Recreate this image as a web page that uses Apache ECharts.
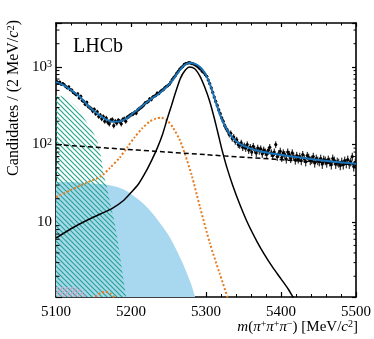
<!DOCTYPE html>
<html>
<head>
<meta charset="utf-8">
<script src="https://cdn.jsdelivr.net/npm/echarts@6/dist/echarts.min.js"></script>
<style>
html, body { margin: 0; padding: 0; background: #fff; }
#container { width: 374px; height: 339px; }
</style>
</head>
<body>
<div id="container"></div>
<script>
// 2 MeV bins from 5100 to 5500
var binLow = 5100;
var binWidth = 2;
var counts = [
  650, 620, 640, 600, 610,  590, 560, 540, 555, 510,
  505, 470, 455, 440, 450,  400, 420, 370, 360, 330,
  350, 310, 300, 290, 270,  285, 250, 265, 230, 240,
  215, 230, 200, 220, 195,  185, 205, 210, 175, 200,
  190, 205, 200, 185, 210,  215, 200, 225, 230, 240,
  245, 250, 260, 255, 280,  290, 300, 310, 325, 345,
  350, 360, 390, 380, 410,  420, 430, 460, 455, 480,
  500, 510, 540, 560, 575,  600, 640, 690, 730, 770,
  830, 880, 940, 980, 1020, 1080, 1110, 1120, 1140, 1130,
  1110, 1100, 1070, 1050, 1010, 970, 940, 880, 850, 800,
  760, 680, 610, 540, 470,  410, 360, 320, 280, 250,
  220, 200, 175, 160, 150,  135, 140, 120, 125, 110,
  115, 100, 98, 105, 92,    96, 90, 100, 85, 92,
  80, 95, 86, 78, 90,       83, 88, 76, 85, 80,
  75, 84, 92, 78, 72,       80, 100, 70, 76, 82,
  68, 78, 74, 65, 80,       74, 66, 78, 70, 63,
  72, 65, 70, 62, 74,       66, 60, 72, 68, 62,
  64, 70, 58, 66, 62,       60, 66, 56, 64, 62,
  58, 64, 60, 55, 66,       62, 56, 60, 58, 54,
  60, 55, 62, 57, 64,       56, 60, 70, 52, 58
];

// fit components, [mass, candidates]
var fitTotal = [[5100,640],[5110,585],[5120,505],[5130,425],[5136,375],[5145,300],[5155,252],[5165,215],[5176,197],[5185,199],[5195,220],[5203,255],[5215,315],[5225,375],[5238,460],[5248,560],[5256,690],[5263,860],[5270,1030],[5278,1125],[5286,1090],[5292,1000],[5298,850],[5304,650],[5309,470],[5314,330],[5320,225],[5328,155],[5336,120],[5345,102],[5358,90],[5372,82],[5390,76],[5410,71],[5440,65],[5470,60],[5500,56.5]];
var signal = [[5100,6.2],[5120,8.2],[5140,10.4],[5160,12.8],[5175,15],[5190,19],[5200,24],[5210,31],[5220,45],[5228,64],[5235,90],[5242,135],[5248,210],[5254,320],[5260,490],[5266,720],[5272,900],[5278,1000],[5285,950],[5292,760],[5298,560],[5305,360],[5311,220],[5316,140],[5321,88],[5328,50],[5336,29],[5345,17],[5356,9.5],[5368,5.6],[5378,3.8],[5389,2.6],[5400,1.85],[5410,1.35],[5418,1.0],[5425,0.8]];
var peakingBkg = [[5100,21],[5120,26],[5140,32],[5160,39],[5172,50],[5185,68],[5195,92],[5205,125],[5215,162],[5225,198],[5233,216],[5240,222],[5248,205],[5256,165],[5265,115],[5272,75],[5281,40],[5292,15.6],[5305,5.4],[5318,2.2],[5329,1.05],[5335,0.7]];
var smallPeak = [[5146,0.9],[5152,1.08],[5160,1.22],[5166,1.26],[5172,1.2],[5178,1.06],[5183,0.9]];
var combinatorial = [[5100,100],[5300,74],[5500,55]];
var partRecoA = [[5100,450],[5110,410],[5120,350],[5130,285],[5140,200],[5150,140],[5155,110],[5160,70],[5164,40],[5168,28],[5172,18],[5178,10],[5184,4.5],[5190,1.8],[5194,1.0],[5197,0.6]];
var partRecoB = [[5100,33],[5120,33],[5140,32],[5160,31],[5175,29.5],[5190,26.5],[5200,23],[5210,19.5],[5220,16],[5230,12.5],[5240,9.3],[5250,6.8],[5260,4.5],[5270,2.8],[5280,1.6],[5285,1.12],[5290,0.7]];
var partRecoC = [[5100,1.45],[5125,1.45],[5135,1.3],[5142,1.05],[5146,0.8]];
var yMinor = [2,3,4,5,6,7,8,9,20,30,40,50,60,70,80,90,200,300,400,500,600,700,800,900,2000,3000];

var points = counts.map(function (n, i) { return [binLow + binWidth * (i + 0.5), n]; });

var serif = '"Liberation Serif", "DejaVu Serif", serif';

function hatch(color, dir) {
  var s = 5;
  var c = document.createElement('canvas');
  c.width = s; c.height = s;
  var g = c.getContext('2d');
  g.strokeStyle = color;
  g.lineWidth = 1.2;
  g.beginPath();
  if (dir > 0) {
    g.moveTo(-1, -1); g.lineTo(s + 1, s + 1);
    g.moveTo(-2, s - 2); g.lineTo(2, s + 2);
    g.moveTo(s - 2, -2); g.lineTo(s + 2, 2);
  } else {
    g.moveTo(-1, s + 1); g.lineTo(s + 1, -1);
    g.moveTo(-2, 2); g.lineTo(2, -2);
    g.moveTo(s - 2, s + 2); g.lineTo(s + 2, s - 2);
  }
  g.stroke();
  return { image: c, repeat: 'repeat' };
}

var dom = document.getElementById('container');
var myChart = echarts.init(dom, null, { renderer: 'canvas' });

var supRich = {
  s: { fontSize: 10, fontFamily: serif, color: '#000', verticalAlign: 'top', lineHeight: 10, padding: [0, 0, 6, 0] },
  i: { fontSize: 15, fontFamily: serif, fontStyle: 'italic', color: '#000' },
  n: { fontSize: 15, fontFamily: serif, color: '#000' }
};

function areaLine(name, data, fill, z) {
  return {
    name: name, type: 'line', data: data, symbol: 'none', smooth: 0.25, z: z,
    lineStyle: { width: 0, opacity: 0 },
    areaStyle: { color: fill, opacity: 1, origin: 'start' }
  };
}

function curve(name, data, color, width, dash, z) {
  return {
    name: name, type: 'line', data: data, symbol: 'none', smooth: 0.25, z: z,
    lineStyle: { color: color, width: width, type: dash }
  };
}

var option = {
  animation: false,
  grid: { left: 56, right: 16, top: 23, bottom: 42 },
  xAxis: [{
    type: 'value', min: 5100, max: 5500, interval: 100,
    axisLine: { lineStyle: { color: '#000', width: 1.6 } },
    axisTick: { inside: true, length: 5, lineStyle: { color: '#000', width: 1.2 } },
    minorTick: { show: true, splitNumber: 5, length: 3, lineStyle: { color: '#000', width: 1 } },
    axisLabel: { color: '#000', fontSize: 15, fontFamily: serif, margin: 8, formatter: function (v) { return String(v); } },
    splitLine: { show: false }
  }, {
    type: 'value', min: 5100, max: 5500, interval: 100, position: 'top',
    axisLine: { lineStyle: { color: '#000', width: 1.6 } },
    axisTick: { inside: true, length: 4, lineStyle: { color: '#000', width: 1.2 } },
    minorTick: { show: true, splitNumber: 5, length: 2.5, lineStyle: { color: '#000', width: 1 } },
    axisLabel: { show: false },
    splitLine: { show: false }
  }],
  yAxis: [{
    type: 'log', logBase: 10, min: 1.08, max: 3700,
    axisLine: { lineStyle: { color: '#000', width: 1.6 } },
    axisTick: { inside: true, length: 6, lineStyle: { color: '#000', width: 1.2 } },
    axisLabel: {
      color: '#000', fontSize: 15, fontFamily: serif, margin: 4,
      formatter: function (v) {
        var e = Math.round(Math.log10(v));
        if (Math.abs(v - Math.pow(10, e)) > 1e-6 * v) return '';
        if (e === 1) return '{n|10}';
        return '{n|10}{s|' + e + '}';
      },
      rich: supRich
    },
    splitLine: { show: false }
  }, {
    type: 'log', logBase: 10, min: 1.08, max: 3700, position: 'right',
    axisLine: { lineStyle: { color: '#000', width: 1.6 } },
    axisTick: { inside: true, length: 4, lineStyle: { color: '#000', width: 1.2 } },
    axisLabel: { show: false },
    splitLine: { show: false }
  }],
  graphic: [{
    type: 'text', x: 73, y: 47,
    style: { text: 'LHCb', font: '20px ' + serif, fill: '#000', verticalAlign: 'middle' }
  }, {
    type: 'text', x: 14, y: 20, rotation: Math.PI / 2,
    style: {
      text: '{n|Candidates / (2 MeV/}{i|c}{s|2}{n|)}',
      align: 'right', verticalAlign: 'middle',
      rich: {
        n: { fontSize: 16, fontFamily: serif, fill: '#000' },
        i: { fontSize: 16, fontFamily: serif, fontStyle: 'italic', fill: '#000' },
        s: { fontSize: 10.5, fontFamily: serif, fill: '#000', verticalAlign: 'top', lineHeight: 10, padding: [0, 0, 6, 0] }
      }
    }
  }, {
    type: 'text', x: 358, y: 327,
    style: {
      text: '{i|m}{n|(}{i|π}{s|+}{i|π}{s|+}{i|π}{s|−}{n|) [MeV/}{i|c}{s|2}{n|]}',
      align: 'right', verticalAlign: 'middle',
      rich: {
        n: { fontSize: 15, fontFamily: serif, fill: '#000' },
        i: { fontSize: 15, fontFamily: serif, fontStyle: 'italic', fill: '#000' },
        s: { fontSize: 10, fontFamily: serif, fill: '#000', verticalAlign: 'top', lineHeight: 10, padding: [0, 0, 6, 0] }
      }
    }
  }],
  series: [
    areaLine('partRecoB', partRecoB, 'rgb(168,216,240)', 1),
    areaLine('partRecoA', partRecoA, hatch('rgb(38,165,140)', 1), 2),
    areaLine('partRecoC', partRecoC, hatch('rgb(225,150,190)', -1), 3),
    curve('smallPeak', smallPeak, 'rgb(230,125,35)', 2, [2, 2], 4),
    curve('peakingBkg', peakingBkg, 'rgb(230,125,35)', 2, [2, 2], 4),
    curve('signal', signal, '#000', 1.5, 'solid', 5),
    curve('combinatorial', combinatorial, '#000', 1.5, [5, 3], 5),
    {
      name: 'data', type: 'custom', z: 6, clip: true,
      encode: { x: 0, y: 1 },
      renderItem: function (params, api) {
        var x = api.value(0), y = api.value(1), e = Math.sqrt(y);
        var c = api.coord([x, y]);
        var t = api.coord([x, y + e]);
        var b = api.coord([x, y - e]);
        return {
          type: 'group',
          children: [
            { type: 'line', shape: { x1: c[0], y1: t[1], x2: c[0], y2: b[1] }, style: { stroke: '#000', lineWidth: 1 } },
            { type: 'circle', shape: { cx: c[0], cy: c[1], r: 1.6 }, style: { fill: '#000' } }
          ]
        };
      },
      data: points
    },
    curve('fit', fitTotal, 'rgb(25,115,185)', 2, 'solid', 7),
    {
      name: 'yMinorTicks', type: 'custom', z: 8, silent: true,
      encode: { x: 0, y: 1 },
      renderItem: function (params, api) {
        var v = api.value(1);
        var l = api.coord([5100, v]);
        var r = api.coord([5500, v]);
        return {
          type: 'group',
          children: [
            { type: 'line', shape: { x1: l[0], y1: l[1], x2: l[0] + 3.5, y2: l[1] }, style: { stroke: '#000', lineWidth: 1 } },
            { type: 'line', shape: { x1: r[0], y1: r[1], x2: r[0] - 2.5, y2: r[1] }, style: { stroke: '#000', lineWidth: 1 } }
          ]
        };
      },
      data: yMinor.map(function (v) { return [5100, v]; })
    }
  ]
};

if (option && typeof option === 'object') {
  myChart.setOption(option);
}

window.addEventListener('resize', myChart.resize);
</script>
</body>
</html>
